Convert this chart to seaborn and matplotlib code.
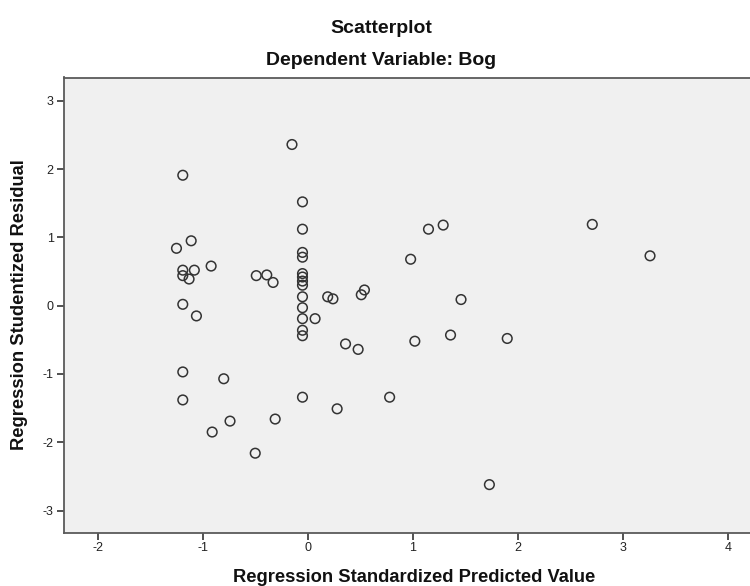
import numpy as np
import pandas as pd
import matplotlib
matplotlib.use("Agg")
import matplotlib.pyplot as plt
import seaborn as sns

# values
pred_value = [-0.15, -1.19, -0.05, -0.05, -1.11, -1.25, -0.05, -0.05, -0.92, -1.19,
              -1.08, -1.19, -1.13, -0.49, -0.39, -0.33, -0.05, -0.05, -0.05, -0.05,
              -0.05, -0.05, -1.19, -1.06, -0.05, 0.07, -0.05, -0.05, -1.19, -0.80,
              -1.19, -0.05, -0.31, -0.74, -0.91, -0.50, 0.28, 0.78, 0.19, 0.24,
              0.54, 0.51, 0.36, 0.48, 1.02, 1.36, 1.46, 0.98, 1.15, 1.29,
              2.71, 3.26, 1.90, 1.73]
stud_resid = [2.36, 1.91, 1.52, 1.12, 0.95, 0.84, 0.78, 0.71, 0.58, 0.52,
              0.52, 0.44, 0.39, 0.44, 0.45, 0.34, 0.47, 0.42, 0.36, 0.30,
              0.13, -0.03, 0.02, -0.15, -0.19, -0.19, -0.36, -0.44, -0.97, -1.07,
              -1.38, -1.34, -1.66, -1.69, -1.85, -2.16, -1.51, -1.34, 0.13, 0.10,
              0.23, 0.16, -0.56, -0.64, -0.52, -0.43, 0.09, 0.68, 1.12, 1.18,
              1.19, 0.73, -0.48, -2.62]
x_ticks = [-2, -1, 0, 1, 2, 3, 4]
y_ticks = [-3, -2, -1, 0, 1, 2, 3]

df = pd.DataFrame({"pred": pred_value, "resid": stud_resid})

sns.set_style("white")
plt.rcParams['font.family'] = ['Liberation Sans', 'DejaVu Sans']

fig = plt.figure(figsize=(7.5, 5.86), dpi=100)
ax = fig.add_axes([63.5 / 750, 53.5 / 586, 686.5 / 750, 455 / 586])
ax.set_facecolor("#f0f0f0")

sns.scatterplot(data=df, x="pred", y="resid", ax=ax, s=48,
                facecolor="none", edgecolor="#333333", linewidth=1.1)

ax.set_xlim(-2.326, 4.212)
ax.set_ylim(-3.321, 3.341)
ax.set_xticks(x_ticks)
ax.set_yticks(y_ticks)
ax.set_xticklabels([str(t) for t in x_ticks])
ax.set_yticklabels([str(t) for t in y_ticks])
ax.tick_params(axis="both", direction="out", length=5, width=1.2,
               color="#333333", labelsize=9, labelcolor="#222222", pad=2)
ax.tick_params(axis="x", bottom=True)
ax.tick_params(axis="y", left=True)
ax.set_xlabel("")
ax.set_ylabel("")

for side in ["left", "bottom", "top"]:
    ax.spines[side].set_visible(True)
    ax.spines[side].set_color("#5a5a5a")
    ax.spines[side].set_linewidth(1.3)
ax.spines["right"].set_visible(False)

# titles and axis labels placed like the SPSS output
fig.text(381.5 / 750, 1 - 33.3 / 586, "Scatterplot", ha="center", va="baseline",
         fontsize=14, fontweight="bold", color="#111111")
fig.text(381.5 / 750, 1 - 65 / 586, "Dependent Variable: Bog", ha="center",
         va="baseline", fontsize=14, fontweight="bold", color="#111111")
fig.text(413.7 / 750, 1 - 582 / 586, "Regression Standardized Predicted Value",
         ha="center", va="baseline", fontsize=13.2, fontweight="bold", color="#111111")
fig.text(20 / 750, 1 - 305 / 586, "Regression Studentized Residual", ha="center",
         va="center", rotation=90, fontsize=13.2, fontweight="bold", color="#111111")

fig.savefig("out.png", dpi=100)
